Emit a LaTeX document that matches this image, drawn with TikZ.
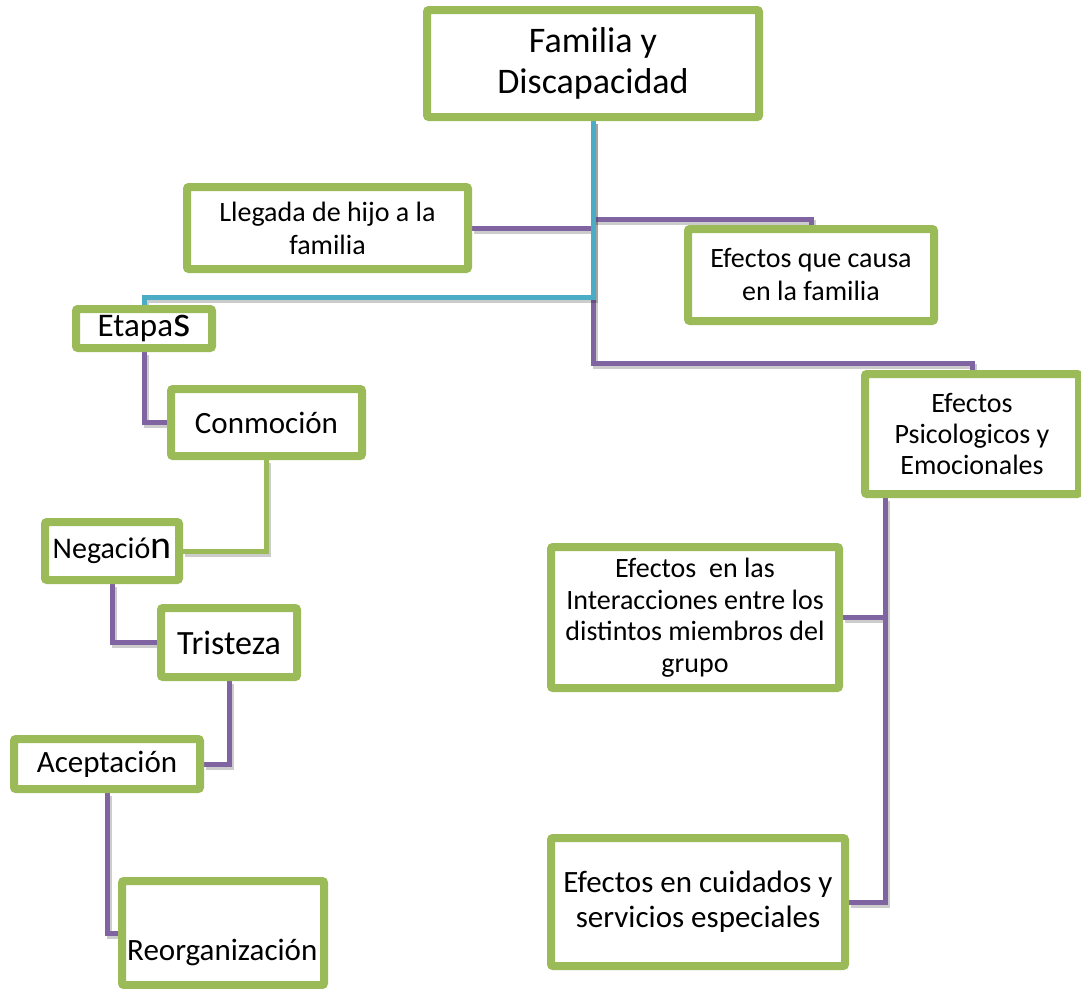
\documentclass[tikz,border=0pt]{standalone}
\usepackage{fontspec}
\setmainfont{Carlito}
\usetikzlibrary{backgrounds}
\definecolor{grn}{HTML}{9BBB59}
\definecolor{pur}{HTML}{8064A2}
\definecolor{blu}{HTML}{4BACC6}
\newcommand\fs[2]{\fontsize{#1}{#2}\selectfont}
\tikzset{
  box/.style={draw=grn, line width=8pt, fill=white, rounded corners=2pt, inner sep=0pt, align=center},
  pline/.style={draw=pur, line width=5pt},
  bline/.style={draw=blu, line width=5pt},
  gline/.style={draw=grn, line width=5pt},
  shad/.style={draw=black, opacity=0.2, line width=5pt, transform canvas={shift={(2pt,-3pt)}}},
}
\begin{document}
\begin{tikzpicture}[x=1pt,y=-1pt]
\useasboundingbox (0,0) rectangle (1081,988);
% boxes
\node[box, minimum width=332, minimum height=107, font=\fs{36}{41}] (main) at (593,63.5) {Familia y\\Discapacidad};
\node[box, minimum width=281, minimum height=82, font=\fs{28}{33}] (llegada) at (327.5,228) {Llegada de hijo a la\\familia};
\node[box, minimum width=246, minimum height=92, font=\fs{28}{33}] (causa) at (811,275) {Efectos que causa\\en la familia};
\node[box, minimum width=136, minimum height=39, font=\fs{33}{38}] (etapas) at (144,328.5) {Etapa{\fs{44}{44}s}};
\node[box, minimum width=191, minimum height=67, font=\fs{31}{36}] (conmocion) at (266.5,422.5) {Conmoción};
\node[box, minimum width=134, minimum height=58, font=\fs{30}{36}] (negacion) at (112,551) {Negació{\fs{40}{40}n}};
\node[box, minimum width=136, minimum height=69, font=\fs{34}{40}] (tristeza) at (229,642.5) {Tristeza};
\node[box, minimum width=186, minimum height=50, font=\fs{31}{36}] (aceptacion) at (107,764) {Aceptación};
\node[box, minimum width=202, minimum height=104] (reorg) at (223,933) {};
\node[anchor=base west, inner sep=0pt, font=\fs{31}{36}] (reotext) at (127,960) {Reorganización};
\node[box, minimum width=214, minimum height=120, font=\fs{28}{31}] (psico) at (972,434) {Efectos\\Psicologicos y\\Emocionales};
\node[box, minimum width=288, minimum height=141, font=\fs{28}{31.5}] (inter) at (695,617.5) {Efectos\ \ en las\\Interacciones entre los\\distintos miembros del\\grupo};
\node[box, minimum width=294, minimum height=128, font=\fs{31}{35}] (cuid) at (698,902) {Efectos en cuidados y\\servicios especiales};
% junctions
\coordinate (jB) at (593,297);
\coordinate (jP) at (593,363);
\coordinate (jC) at (593,219);
\coordinate (jR) at (885,498);
\begin{scope}[on background layer]
  \fill[white] (0,0) rectangle (1081,988);
  \foreach \st in {shad,pline}{
    \draw[\st] (main.south) -- (jP) -| (psico.north);
    \draw[\st] (llegada.east) -- (llegada.east -| main.south);
    \draw[\st] (jC) -| (causa.north);
    \draw[\st] (etapas.south) |- (conmocion.west);
    \draw[\st] (negacion.south) |- (tristeza.west);
    \draw[\st] (tristeza.south) |- (aceptacion.east);
    \draw[\st] (aceptacion.south) |- (reorg.west);
    \draw[\st] (jR) |- (cuid.east);
    \draw[\st] (inter.east) -- (inter.east -| jR);
  }
  \draw[shad] (main.south) -- (jB) -| (etapas.north);
  \draw[bline] (main.south) -- (jB) -| (etapas.north);
  \draw[shad] (conmocion.south) |- (negacion.east);
  \draw[gline] (conmocion.south) |- (negacion.east);
\end{scope}
\end{tikzpicture}
\end{document}
